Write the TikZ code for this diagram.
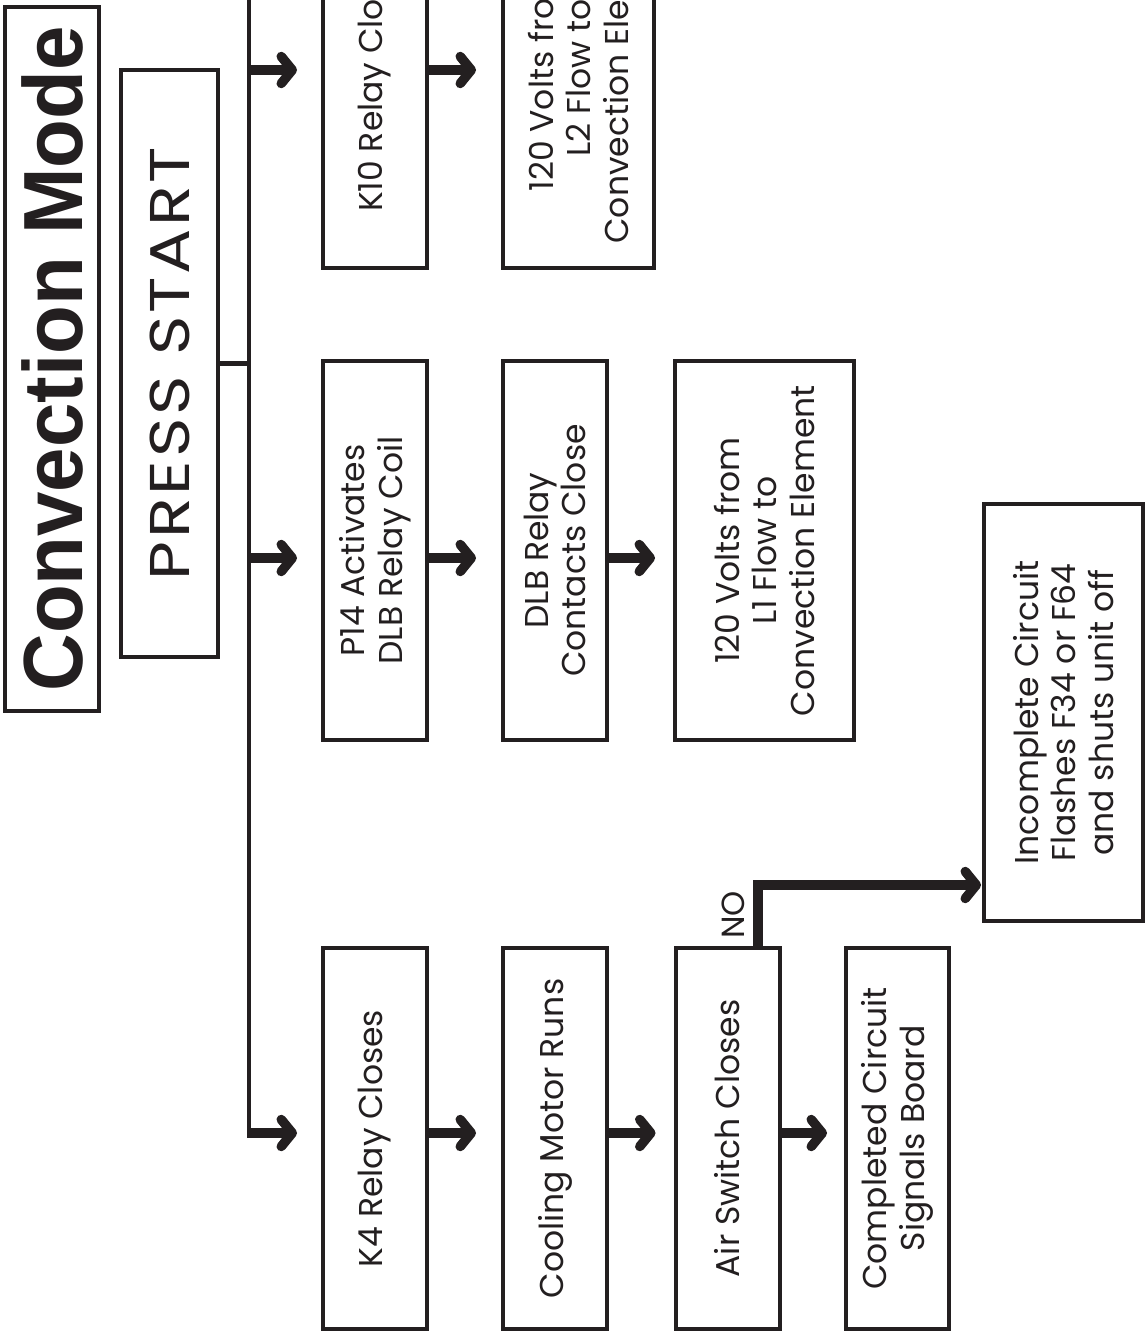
\documentclass[tikz,border=0pt]{standalone}
\usepackage{fontspec}
\setmainfont{Poppins}
\newfontfamily\titlefont{Liberation Sans}
\newfontfamily\widefont{Poppins}[LetterSpace=4]
\usetikzlibrary{arrows.meta}
\definecolor{ink}{RGB}{35,31,32}
\begin{document}
\begin{tikzpicture}[x=1pt,y=-1pt,
  box/.style={draw=ink, line width=4pt, rotate=90, inner sep=0pt, align=center, text=ink,
              font=\fontsize{33}{37.5}\selectfont},
  arr/.style={draw=ink, line width=9.5pt, -{Straight Barb[length=11pt,width=27pt,round]}},
  wire/.style={draw=ink, line width=4.5pt}]
\useasboundingbox (0,0) rectangle (1146,1332);
\clip (0,0) rectangle (1146,1332);
\fill[white] (0,0) rectangle (1146,1332);

% title and start
\node[box, minimum width=704pt, minimum height=94pt,
      font=\titlefont\bfseries\fontsize{84}{84}\selectfont] (title) at (52,359)
      {\scalebox{0.95}[1]{Convection Mode}};
\node[box, minimum width=587pt, minimum height=97pt,
      font=\widefont\fontsize{56}{60}\selectfont] (press) at (169.5,363.5)
      {\scalebox{1.2}[1]{PRESS START}};

% row 1
\node[box, minimum width=380pt, minimum height=104pt] (k10) at (375,78) {K10 Relay Closes};
\node[box, minimum width=380pt, minimum height=151pt] (l2) at (578.5,78)
      {120 Volts from\\L2 Flow to\\Convection Element};
% row 2
\node[box, minimum width=379pt, minimum height=104pt] (p14) at (375,550.5)
      {P14 Activates\\DLB Relay Coil};
\node[box, minimum width=379pt, minimum height=104pt] (dlb) at (555,550.5)
      {DLB Relay\\Contacts Close};
\node[box, minimum width=379pt, minimum height=179pt] (l1) at (764.5,550.5)
      {120 Volts from\\L1 Flow to\\Convection Element};
% row 3
\node[box, minimum width=381pt, minimum height=104pt] (k4) at (375,1138.5) {K4 Relay Closes};
\node[box, minimum width=381pt, minimum height=104pt] (cool) at (555,1138.5) {Cooling Motor Runs};
\node[box, minimum width=381pt, minimum height=104pt] (air) at (727.5,1138.5) {Air Switch Closes};
\node[box, minimum width=381pt, minimum height=103pt] (done) at (897.5,1138.5)
      {Completed Circuit\\Signals Board};
\node[box, minimum width=417pt, minimum height=159pt] (inc) at (1063.5,712.5)
      {Incomplete Circuit\\Flashes F34 or F64\\and shuts unit off};
\node[rotate=90, inner sep=0pt, text=ink, font=\fontsize{32}{32}\selectfont] (no) at (733,915) {NO};

% connectors
\coordinate (ttop) at (249,-10);
\coordinate (r1) at (249,70);
\coordinate (r2) at (249,558);
\coordinate (r3) at (249,1133);
\coordinate (nob) at (758,885);

\draw[wire] (ttop) -- ([yshift=-4.75pt]r3);
\draw[wire] (press.south) -- (press.south -| ttop);

\draw[arr, shorten >=24pt] (r1) -- (r1 -| k10.north);
\draw[arr, shorten >=25pt] (k10.south |- r1) -- (r1 -| l2.north);
\draw[arr, shorten >=24pt] (r2) -- (r2 -| p14.north);
\draw[arr, shorten >=25pt] (p14.south |- r2) -- (r2 -| dlb.north);
\draw[arr, shorten >=18pt] (dlb.south |- r2) -- (r2 -| l1.north);
\draw[arr, shorten >=24pt] (r3) -- (r3 -| k4.north);
\draw[arr, shorten >=25pt] (k4.south |- r3) -- (r3 -| cool.north);
\draw[arr, shorten >=18pt] (cool.south |- r3) -- (r3 -| air.north);
\draw[arr, shorten >=17pt] (air.south |- r3) -- (r3 -| done.north);
\draw[arr, shorten >=1pt] (air.east -| nob) -- (nob) -- (nob -| inc.north);
\end{tikzpicture}
\end{document}
